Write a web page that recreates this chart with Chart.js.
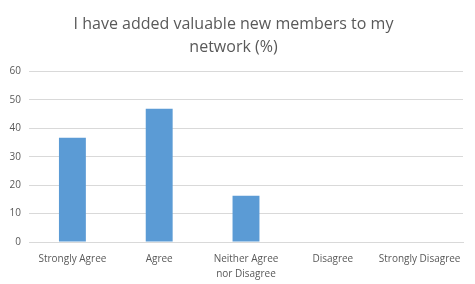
<!DOCTYPE html>
<html><head><meta charset="utf-8">
<script src="https://cdn.jsdelivr.net/npm/chart.js@4"></script>
<style>html,body{margin:0;padding:0;background:#fff}#w{width:475px;height:284px}</style>
</head><body><div id="w"><canvas id="c"></canvas></div>
<script>
const titleLines = ["I have added valuable new members to my", "network (%)"];
const categories = ["Strongly Agree", "Agree", ["Neither Agree", "nor Disagree"], "Disagree", "Strongly Disagree"];
const values = [36.7, 46.9, 16.3, 0, 0];
const yTicks = [0, 10, 20, 30, 40, 50, 60];

new Chart(document.getElementById('c'), {
  type: 'bar',
  data: { labels: categories, datasets: [{ data: values, backgroundColor: '#5b9bd5', categoryPercentage: 1, barPercentage: 0.31 }] },
  options: {
    responsive: true, maintainAspectRatio: false, animation: false,
    layout: { padding: { left: 4, right: 12, top: 7, bottom: 0 } },
    plugins: {
      legend: { display: false }, tooltip: { enabled: false },
      title: { display: true, text: titleLines, color: '#595959', font: { family: 'Open Sans', size: 16, weight: 'normal', lineHeight: 1.45 }, padding: { top: 6, bottom: 12 } }
    },
    scales: {
      x: { grid: { display: false }, border: { color: '#d9d9d9' },
           ticks: { color: '#595959', font: { family: 'Open Sans', size: 10, lineHeight: 1.5 }, maxRotation: 0, autoSkip: false, padding: 2 } },
      y: { min: 0, max: 60, afterBuildTicks: a => { a.ticks = yTicks.map(v => ({ value: v })); },
           afterFit: a => { a.width = 25; },
           grid: { color: '#d9d9d9', drawTicks: false }, border: { display: false },
           ticks: { color: '#595959', font: { family: 'Open Sans', size: 10 }, padding: 8 } }
    }
  }
});
</script></body></html>
